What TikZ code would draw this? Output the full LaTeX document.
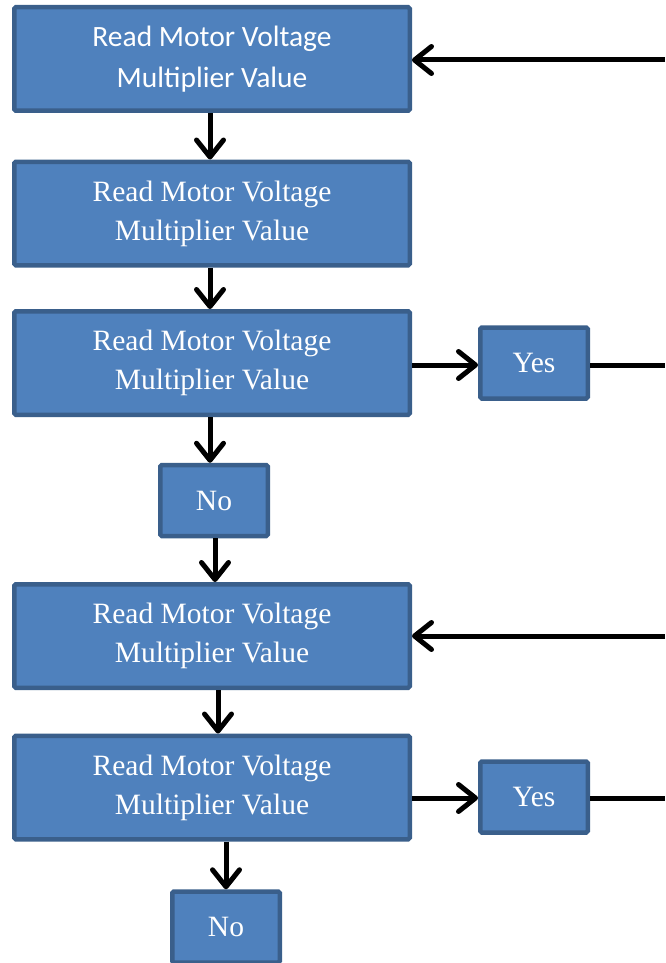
\documentclass[tikz,border=0pt]{standalone}
\usepackage{fontspec}
\newfontfamily\timesfont{Liberation Serif}
\newfontfamily\calfont{Carlito}
\usetikzlibrary{arrows.meta}
\definecolor{boxfill}{HTML}{4F81BD}
\definecolor{boxline}{HTML}{3A5F8B}
\tikzset{
  box/.style={draw=boxline, fill=boxfill, line width=4.5pt, rounded corners=1.5pt,
    text=white, align=center, inner sep=0pt},
  bigbox/.style={box, minimum width=395.5pt, minimum height=103.5pt},
  smallbox/.style={box, minimum width=107.5pt, minimum height=71pt},
  rmtext/.style={font={\timesfont\fontsize{29.5}{39}\selectfont}},
  sftext/.style={font={\calfont\fontsize{29.5}{41}\selectfont}},
  arr/.style={line width=5pt, -{Straight Barb[length=17pt,width=27pt,line cap=round,line join=round]}},
  plain/.style={line width=5pt}
}
\begin{document}
\begin{tikzpicture}[x=1pt,y=-1pt]
  \useasboundingbox (0,0) rectangle (665,963);
  \clip (0,0) rectangle (665,963);
  % process boxes
  \node[bigbox, sftext] (b1) at (212,59)    {Read Motor Voltage\\Multiplier Value};
  \node[bigbox, rmtext] (b2) at (212,213.5) {Read Motor Voltage\\Multiplier Value};
  \node[bigbox, rmtext] (b3) at (212,363)   {Read Motor Voltage\\Multiplier Value};
  \node[bigbox, rmtext] (b4) at (212,636)   {Read Motor Voltage\\Multiplier Value};
  \node[bigbox, rmtext] (b5) at (212,787.5) {Read Motor Voltage\\Multiplier Value};
  % decision outcomes
  \node[smallbox, rmtext] (y1) at (534,363)   {Yes};
  \node[smallbox, rmtext] (n1) at (214,500.5) {No};
  \node[smallbox, rmtext] (y2) at (534,797)   {Yes};
  \node[smallbox, rmtext] (n2) at (226,927)   {No};
  % loose ends on the right margin
  \coordinate (r1) at (665,60);
  \coordinate (r2) at (665,365);
  \coordinate (r3) at (665,636);
  \coordinate (r4) at (665,798);
  % main flow
  \draw[arr] ([xshift=-2pt]b1.south) -- ([xshift=-2pt]b1.south |- b2.north);
  \draw[arr] ([xshift=-2pt]b2.south) -- ([xshift=-2pt]b2.south |- b3.north);
  \draw[arr] (b3.south -| 210,0) -- (n1.north -| 210,0);
  \draw[arr] (n1.south -| 215,0) -- (b4.north -| 215,0);
  \draw[arr] (b4.south -| 218,0) -- (b5.north -| 218,0);
  \draw[arr] (b5.south -| n2.north) -- (n2.north);
  % branches to the right
  \draw[arr] (b3.east |- r2) -- (y1.west |- r2);
  \draw[plain] (y1.east |- r2) -- (r2);
  \draw[arr] (b5.east |- r4) -- (y2.west |- r4);
  \draw[plain] (y2.east |- r4) -- (r4);
  % returns from the right
  \draw[arr] (r1) -- (r1 -| b1.east);
  \draw[arr] (r3) -- (r3 -| b4.east);
\end{tikzpicture}
\end{document}
